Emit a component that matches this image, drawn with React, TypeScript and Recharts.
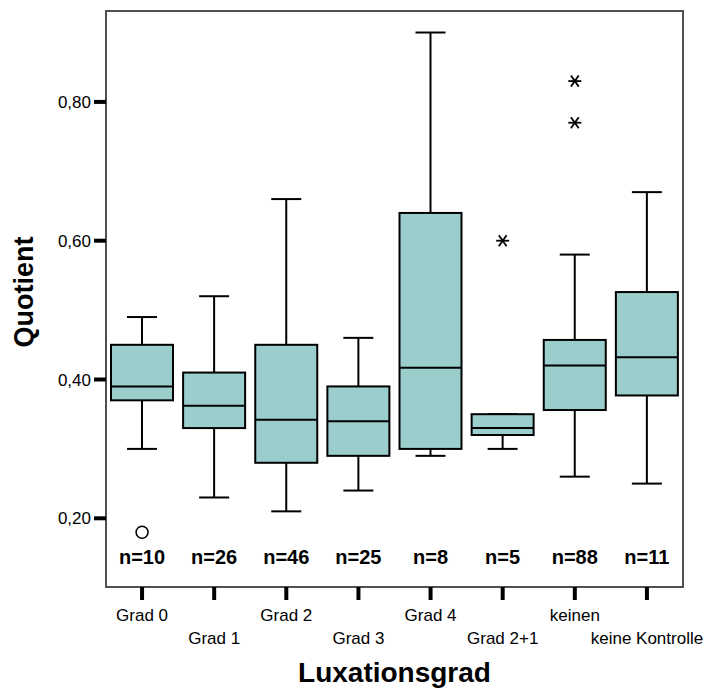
import {
  ComposedChart,
  Bar,
  Scatter,
  XAxis,
  YAxis,
  ReferenceArea,
} from 'recharts'

const categories = [
  'Grad 0',
  'Grad 1',
  'Grad 2',
  'Grad 3',
  'Grad 4',
  'Grad 2+1',
  'keinen',
  'keine Kontrolle',
]
const whiskerLow = [0.3, 0.23, 0.21, 0.24, 0.29, 0.3, 0.26, 0.25]
const quartile1 = [0.37, 0.33, 0.28, 0.29, 0.3, 0.32, 0.356, 0.377]
const medians = [0.39, 0.362, 0.342, 0.34, 0.417, 0.33, 0.42, 0.432]
const quartile3 = [0.45, 0.41, 0.45, 0.39, 0.64, 0.35, 0.457, 0.526]
const whiskerHigh = [0.49, 0.52, 0.66, 0.46, 0.9, 0.35, 0.58, 0.67]
const counts = [10, 26, 46, 25, 8, 5, 88, 11]

// circles = outliers, stars = extreme values
const outliers = [{ cat: 'Grad 0', value: 0.18 }]
const extremes = [
  { cat: 'Grad 2+1', value: 0.6 },
  { cat: 'keinen', value: 0.83 },
  { cat: 'keinen', value: 0.77 },
]

const yTicks = [0.2, 0.4, 0.6, 0.8]
const yDomain = [0.101, 0.931]

const data = categories.map((cat, i) => ({
  cat,
  low: whiskerLow[i],
  q1: quartile1[i],
  median: medians[i],
  q3: quartile3[i],
  high: whiskerHigh[i],
  n: counts[i],
}))

const FONT = "Arial, 'Liberation Sans', sans-serif"
const BOX_FILL = '#9CCDCD'
const COUNT_LABEL_AT = 0.134

const BoxShape = (props: any) => {
  const { x, y, width, height, payload } = props
  const top = Math.min(y, y + height)
  const bottom = Math.max(y, y + height)
  const perUnit = (bottom - top) / (payload.high - payload.low)
  const yOf = (v: number) => bottom - (v - payload.low) * perUnit
  const cx = x + width / 2
  const capHalf = 15
  const yQ1 = yOf(payload.q1)
  const yQ3 = yOf(payload.q3)
  const yMed = yOf(payload.median)
  return (
    <g>
      <line x1={cx} x2={cx} y1={top} y2={yQ3} stroke="#000" strokeWidth={2} />
      <line x1={cx} x2={cx} y1={yQ1} y2={bottom} stroke="#000" strokeWidth={2} />
      <line x1={cx - capHalf} x2={cx + capHalf} y1={top} y2={top} stroke="#000" strokeWidth={2} />
      <line x1={cx - capHalf} x2={cx + capHalf} y1={bottom} y2={bottom} stroke="#000" strokeWidth={2} />
      <rect
        x={x}
        y={yQ3}
        width={width}
        height={yQ1 - yQ3}
        fill={BOX_FILL}
        stroke="#000"
        strokeWidth={2}
      />
      <line x1={x} x2={x + width} y1={yMed} y2={yMed} stroke="#000" strokeWidth={2} />
      <text
        x={cx}
        y={yOf(COUNT_LABEL_AT)}
        textAnchor="middle"
        fontFamily={FONT}
        fontWeight="bold"
        fontSize={20}
        fill="#000"
      >
        {`n=${payload.n}`}
      </text>
    </g>
  )
}

const CircleMark = (props: any) => (
  <circle cx={props.cx} cy={props.cy} r={6} fill="none" stroke="#000" strokeWidth={1.5} />
)

const StarMark = (props: any) => {
  const { cx, cy } = props
  const r = 6.5
  const dx = r * 0.6
  const dy = r * 0.85
  return (
    <g stroke="#000" strokeWidth={1.8}>
      <line x1={cx - r} x2={cx + r} y1={cy} y2={cy} />
      <line x1={cx - dx} x2={cx + dx} y1={cy - dy} y2={cy + dy} />
      <line x1={cx - dx} x2={cx + dx} y1={cy + dy} y2={cy - dy} />
    </g>
  )
}

const CategoryTick = (props: any) => {
  const { x, y, payload, index } = props
  const row = index % 2
  return (
    <text
      x={x}
      y={y}
      dy={row === 0 ? 19 : 42}
      textAnchor="middle"
      fontFamily={FONT}
      fontSize={17}
      fill="#000"
    >
      {payload.value}
    </text>
  )
}

export default function App() {
  return (
    <div style={{ position: 'absolute', left: 0, top: 0 }}>
      <ComposedChart
        width={707}
        height={690}
        data={data}
        margin={{ top: 11, right: 24, bottom: 0, left: 0 }}
      >
        <ReferenceArea
          y1={yDomain[0]}
          y2={yDomain[1]}
          fill="none"
          stroke="#505050"
          strokeWidth={2}
          ifOverflow="visible"
        />
        <XAxis
          dataKey="cat"
          type="category"
          allowDuplicatedCategory={false}
          height={103}
          axisLine={false}
          tickLine={{ stroke: '#000', strokeWidth: 4 }}
          tickSize={13}
          interval={0}
          tick={<CategoryTick />}
          label={{
            content: ({ viewBox }: any) => (
              <text
                x={viewBox.x + viewBox.width / 2}
                y={viewBox.y + 95}
                textAnchor="middle"
                fontFamily={FONT}
                fontWeight="bold"
                fontSize={28}
                fill="#000"
              >
                Luxationsgrad
              </text>
            ),
          }}
        />
        <YAxis
          type="number"
          domain={yDomain}
          ticks={yTicks}
          width={106}
          axisLine={false}
          tickLine={{ stroke: '#000', strokeWidth: 4 }}
          tickSize={12}
          tickMargin={3}
          tickFormatter={(v: number) => v.toFixed(2).replace('.', ',')}
          tick={{ fontFamily: FONT, fontSize: 17, fill: '#000' }}
          label={{
            content: () => (
              <text
                x={33}
                y={292}
                transform="rotate(-90 33 292)"
                textAnchor="middle"
                fontFamily={FONT}
                fontWeight="bold"
                fontSize={27}
                fill="#000"
              >
                Quotient
              </text>
            ),
          }}
        />
        <Bar
          dataKey={(d: any) => [d.low, d.high]}
          barSize={62}
          shape={<BoxShape />}
          isAnimationActive={false}
        />
        <Scatter
          data={outliers}
          dataKey="value"
          shape={<CircleMark />}
          isAnimationActive={false}
        />
        <Scatter
          data={extremes}
          dataKey="value"
          shape={<StarMark />}
          isAnimationActive={false}
        />
      </ComposedChart>
    </div>
  )
}
